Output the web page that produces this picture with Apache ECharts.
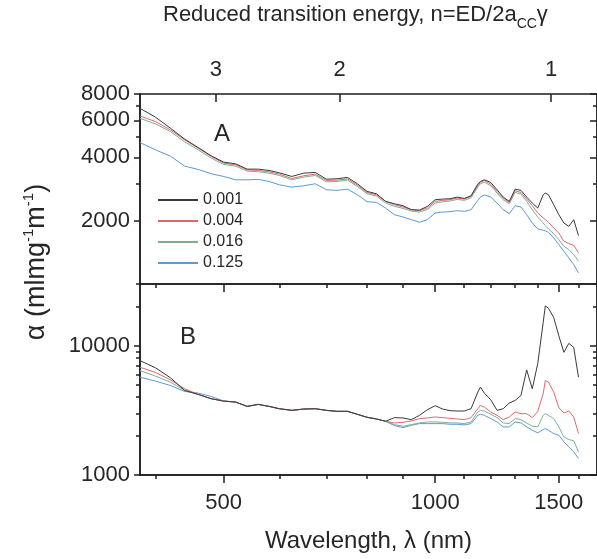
<!DOCTYPE html>
<html><head><meta charset="utf-8">
<script src="https://cdn.jsdelivr.net/npm/echarts@6/dist/echarts.min.js"></script>
<style>html,body{margin:0;padding:0;background:#fff}#c{width:597px;height:559px}</style>
</head><body><div id="c"></div>
<script>
// ---- data ----
const seriesNames = ['0.001', '0.004', '0.016', '0.125'];
const wavelengths = [380,400,420,440,460,480,500,520,540,560,580,600,625,650,675,700,725,750,775,800,825,850,875,900,925,950,975,1000,1025,1050,1075,1100,1125,1150,1160,1175,1200,1225,1250,1275,1300,1325,1350,1375,1400,1425,1435,1450,1475,1500,1525,1550,1575,1600];
// panel A
const a001 = [6840,6200,5500,4880,4450,4065,3795,3725,3515,3515,3465,3377,3245,3365,3390,3150,3163,3210,2995,2755,2685,2470,2408,2356,2255,2245,2339,2515,2533,2543,2589,2552,2627,2984,3072,3128,3039,2805,2589,2470,2825,2785,2589,2425,2296,2656,2705,2656,2381,2135,1950,1880,2022,1698];
const a004 = [6290,5913,5399,4841,4420,4036,3752,3685,3489,3464,3414,3328,3174,3268,3328,3106,3117,3163,2952,2724,2656,2470,2381,2322,2255,2231,2300,2470,2497,2515,2561,2533,2608,2930,3039,3106,2984,2754,2561,2443,2775,2724,2533,2356,2175,2059,2022,1964,1846,1748,1596,1556,1528,1405];
const a016 = [6132,5764,5302,4736,4340,3963,3698,3632,3439,3414,3365,3280,3128,3221,3280,3061,3072,3117,2909,2685,2618,2425,2339,2288,2222,2198,2260,2425,2461,2479,2524,2497,2570,2888,2995,3050,2930,2705,2515,2408,2724,2675,2470,2255,2082,1950,1894,1826,1736,1626,1512,1458,1380,1283];
const a125 = [4702,4340,4050,3632,3502,3340,3244,3128,3128,3140,3072,2962,2888,2930,2995,2805,2785,2825,2656,2461,2443,2296,2135,2082,2022,1964,2022,2175,2198,2206,2231,2214,2255,2497,2589,2650,2589,2425,2255,2159,2356,2322,2135,1950,1826,1800,1790,1761,1655,1539,1431,1331,1237,1130];
// panel B
const b001 = [7666,6733,5640,4506,4198,3888,3730,3665,3394,3516,3394,3256,3162,3237,3256,3162,3107,3107,2946,2794,2712,2603,2777,2761,2680,2894,3199,3434,3237,3144,3125,3125,3256,4375,4780,4298,3819,3162,3256,3600,3775,4124,6498,4641,7300,15118,20310,19487,16518,11937,8887,10423,9710,5707];
const b004 = [6812,6198,5443,4641,4198,3888,3730,3665,3394,3516,3394,3256,3162,3237,3256,3162,3107,3107,2946,2794,2712,2603,2527,2557,2618,2728,2761,2810,2777,2745,2712,2680,2777,3256,3454,3354,3070,2894,2680,2810,3070,2981,2981,2777,3107,4248,5379,5223,4375,3315,3016,3125,2810,2092];
const b016 = [6422,5809,5223,4506,4198,3888,3730,3665,3394,3516,3394,3256,3162,3237,3256,3162,3107,3107,2946,2794,2712,2603,2453,2382,2453,2527,2572,2572,2557,2527,2527,2497,2572,3070,3162,3125,2946,2777,2527,2497,2728,2680,2527,2382,2354,2894,2981,2894,2728,2354,1972,1881,1837,1512];
const b125 = [5707,5316,4923,4427,4298,4052,3730,3665,3394,3516,3394,3256,3162,3237,3256,3162,3107,3107,2946,2794,2712,2603,2410,2326,2425,2497,2497,2497,2497,2468,2468,2439,2497,2894,2946,2894,2728,2572,2354,2354,2572,2527,2354,2219,2117,2246,2286,2219,2092,2031,1805,1652,1512,1343];
// axes / ticks
const xRange = [380, 1700];
const xMajorTicks = [500, 1000, 1500];
const xMinorTicks = [400, 600, 700, 800, 900, 1100, 1200, 1300, 1400, 1600];
const yARange = [1000, 8000];
const yAMajorTicks = [2000, 4000, 6000, 8000];
const yAMinorTicks = [1000, 3000, 5000, 7000];
const yBRange = [1000, 30000];
const yBMajorTicks = [1000, 10000];
const yBMinorTicks = [2000, 3000, 4000, 5000, 6000, 7000, 8000, 9000, 20000];
const nTicks = [3, 2, 1];
const nOneWavelength = 1462; // wavelength (nm) at n = 1

// ---- chart ----
const FONT = "'Liberation Sans', Arial, Helvetica, sans-serif";
const TXT = '#262626';
const AX = '#1e1e1e';
const colors = ['#3a3a3a', '#dc6a6c', '#7fae93', '#5b9ad6'];
const L = Math.log10;
const gridA = {left: 140, top: 94, width: 459, height: 190};
const gridB = {left: 140, top: 284, width: 459, height: 191};

function tickAxis(grid, position, range, ticks, len, inside, label, extra) {
  const ax = {
    type: 'value', gridIndex: grid, position: position,
    min: L(range[0]), max: L(range[1]),
    axisLine: {show: true, onZero: false, lineStyle: {color: AX, width: 1.5}},
    axisTick: {show: true, inside: inside, length: len, customValues: ticks.map(L), lineStyle: {color: AX, width: 1.5}},
    axisLabel: {show: false},
    splitLine: {show: false}, splitArea: {show: false}
  };
  if (label) {
    ax.axisLabel = Object.assign({show: true, customValues: ticks.map(L),
      fontSize: 22, fontFamily: FONT, color: TXT}, label);
  }
  return Object.assign(ax, extra || {});
}
const wlFmt = v => String(Math.round(Math.pow(10, v)));

const xAxes = [
  {type: 'log', gridIndex: 0, min: xRange[0], max: xRange[1], show: false},
  {type: 'log', gridIndex: 1, min: xRange[0], max: xRange[1], show: false},
  tickAxis(1, 'bottom', xRange, xMajorTicks, 8, false, {formatter: wlFmt, margin: 17},
    {name: 'Wavelength, λ (nm)', nameLocation: 'middle', nameGap: 54,
     nameTextStyle: {fontSize: 24, fontFamily: FONT, color: TXT}}),
  tickAxis(1, 'bottom', xRange, xMinorTicks, 4, false, null),
  tickAxis(0, 'bottom', xRange, xMajorTicks, 8, false, null),
  tickAxis(0, 'bottom', xRange, xMinorTicks, 4, false, null),
  tickAxis(0, 'top', xRange, nTicks.map(n => nOneWavelength / n), 8, true,
    {formatter: v => String(Math.round(nOneWavelength / Math.pow(10, v))), margin: 13})
];
const yAxes = [
  {type: 'log', gridIndex: 0, min: yARange[0], max: yARange[1], show: false},
  {type: 'log', gridIndex: 1, min: yBRange[0], max: yBRange[1], show: false},
  tickAxis(0, 'left', yARange, yAMajorTicks, 6, false, {formatter: wlFmt, margin: 10}),
  tickAxis(0, 'left', yARange, yAMinorTicks, 4, false, null),
  tickAxis(0, 'right', yARange, yAMajorTicks, 7, true, null),
  tickAxis(0, 'right', yARange, yAMinorTicks, 4, true, null),
  tickAxis(1, 'left', yBRange, yBMajorTicks, 6, false, {formatter: wlFmt, margin: 10}),
  tickAxis(1, 'left', yBRange, yBMinorTicks, 4, false, null),
  tickAxis(1, 'right', yBRange, yBMajorTicks, 7, true, null),
  tickAxis(1, 'right', yBRange, yBMinorTicks, 4, true, null)
];

const panelA = [a001, a004, a016, a125];
const panelB = [b001, b004, b016, b125];
const series = [];
[panelA, panelB].forEach((panel, p) => {
  panel.forEach((vals, i) => {
    series.push({
      type: 'line', name: seriesNames[i], xAxisIndex: p, yAxisIndex: p,
      data: wavelengths.map((w, k) => [w, vals[k]]),
      symbol: 'none', showSymbol: false, smooth: false,
      lineStyle: {width: 1, color: colors[i]}, itemStyle: {color: colors[i]},
      z: 10 - i
    });
  });
});

const chart = echarts.init(document.getElementById('c'), null, {renderer: 'canvas'});
chart.setOption({
  animation: false,
  backgroundColor: '#ffffff',
  title: {
    text: '{t|Reduced transition energy, n=ED/2a}{s|CC}{t|γ}',
    left: 158, top: -6,
    textStyle: {fontWeight: 'normal', rich: {
      t: {fontSize: 22, fontWeight: 'normal', fontFamily: FONT, color: TXT, lineHeight: 32},
      s: {fontSize: 14, fontWeight: 'normal', fontFamily: FONT, color: TXT, verticalAlign: 'bottom', lineHeight: 18}
    }}
  },
  legend: {
    data: seriesNames, orient: 'vertical', left: 152, top: 187,
    itemWidth: 40, itemHeight: 14, itemGap: 5,
    itemStyle: {opacity: 0, borderWidth: 0},
    textStyle: {fontSize: 16, fontFamily: FONT, color: TXT}
  },
  grid: [gridA, gridB],
  xAxis: xAxes,
  yAxis: yAxes,
  series: series,
  graphic: [
    {type: 'text', x: 37, y: 262, rotation: Math.PI / 2, z: 100,
     style: {text: '{a|α (mlmg}{s|-1}{a|m}{s|-1}{a|)}', align: 'center', verticalAlign: 'middle',
       rich: {a: {fontSize: 27, fontFamily: FONT, fill: TXT, lineHeight: 32},
              s: {fontSize: 15, fontFamily: FONT, fill: TXT, verticalAlign: 'top', lineHeight: 17}}}},
    {type: 'text', x: 222, y: 134, z: 100,
     style: {text: 'A', fontSize: 24, fontFamily: FONT, fill: TXT, align: 'center', verticalAlign: 'middle'}},
    {type: 'text', x: 188, y: 337, z: 100,
     style: {text: 'B', fontSize: 24, fontFamily: FONT, fill: TXT, align: 'center', verticalAlign: 'middle'}}
  ]
});
</script>
</body></html>
